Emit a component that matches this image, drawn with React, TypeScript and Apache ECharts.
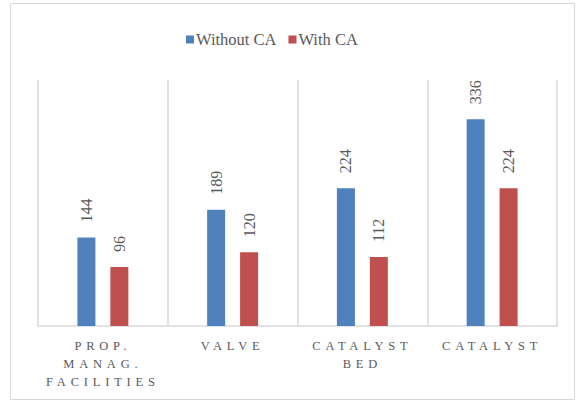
import React, { useEffect, useRef } from "react";
import * as echarts from "echarts";

const categories = ["PROP.\nMANAG.\nFACILITIES", "VALVE", "CATALYST\nBED", "CATALYST"];
const withoutCA = [144, 189, 224, 336];
const withCA = [96, 120, 112, 224];
const seriesNames = ["Without CA", "With CA"];

const AXIS_LABEL_COLOR = "#5a5a5b";

export default function App() {
  const ref = useRef<HTMLDivElement>(null);
  useEffect(() => {
    const chart = echarts.init(ref.current!, undefined, { renderer: "svg" });
    const font = "serif";
    const labelCfg = {
      show: true,
      position: "top" as const,
      rotate: 90,
      align: "left" as const,
      verticalAlign: "middle" as const,
      distance: 15,
      color: "#595959",
      fontFamily: font,
      fontSize: 16,
    };
    chart.setOption({
      animation: false,
      backgroundColor: "#ffffff",
      graphic: [
        {
          type: "rect",
          shape: { x: 10.5, y: 3.5, width: 564, height: 396 },
          style: { fill: "none", stroke: "#d9d9d9", lineWidth: 1 },
          silent: true,
        },
      ],
      legend: {
        top: 26,
        left: 181,
        itemWidth: 8,
        itemHeight: 8,
        itemGap: 12,
        icon: "rect",
        textStyle: { color: "#595959", fontFamily: font, fontSize: 16.5, padding: [0, 0, 0, -3] },
        data: seriesNames,
      },
      grid: { left: 38, right: 22, top: 80, bottom: 78 },
      xAxis: {
        type: "category",
        data: categories,
        axisLine: { show: true, lineStyle: { color: "#d9d9d9", width: 1.5 } },
        axisTick: { show: false },
        splitLine: { show: true, lineStyle: { color: "#d9d9d9", width: 1.5 } },
        axisLabel: {
          margin: 11,
          color: AXIS_LABEL_COLOR,
          fontFamily: font,
          fontSize: 12.5,
          lineHeight: 18,
          interval: 0,
        },
      },
      yAxis: {
        type: "value",
        min: 0,
        max: 400,
        interval: 50,
        show: false,
        splitLine: { show: false },
      },
      series: [
        {
          name: seriesNames[0],
          type: "bar",
          data: withoutCA,
          barWidth: 18,
          barGap: "83%",
          itemStyle: { color: "#4f81bd" },
          label: labelCfg,
        },
        {
          name: seriesNames[1],
          type: "bar",
          data: withCA,
          barWidth: 18,
          itemStyle: { color: "#c0504d" },
          label: labelCfg,
        },
      ],
    });
    return () => chart.dispose();
  }, []);
  return (
    <>
      <style>{`text[fill="${AXIS_LABEL_COLOR}"]{letter-spacing:4.8px;}`}</style>
      <div
        ref={ref}
        style={{ position: "fixed", left: 0, top: 0, width: 579, height: 404, background: "#fff" }}
      />
    </>
  );
}
